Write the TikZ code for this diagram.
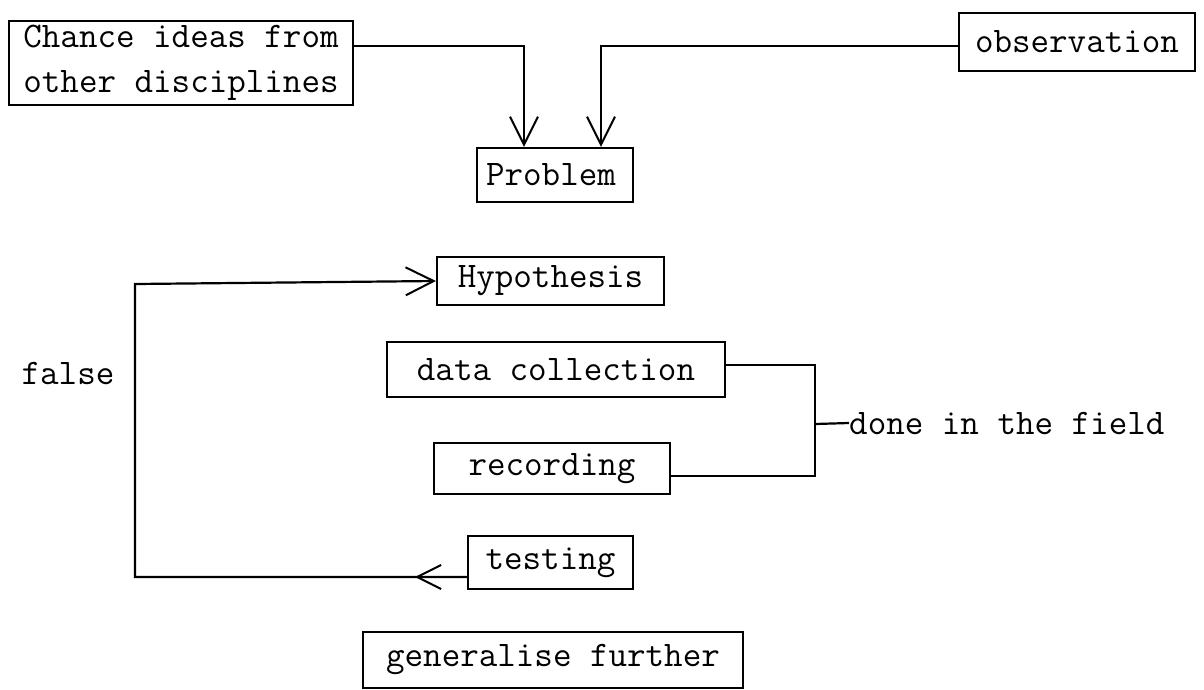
\documentclass[tikz,border=0pt]{standalone}
\usepackage{fontspec}
\usetikzlibrary{arrows.meta,decorations.markings}
\tikzset{
  box/.style={draw, line width=2.2pt, inner sep=0pt, align=center},
  lbl/.style={inner sep=0pt},
  conn/.style={line width=2.2pt},
  bigbarb/.style={-{Straight Barb[length=28pt,width=28pt,line width=2pt]}},
}
\begin{document}
\begin{tikzpicture}[x=1pt,y=-1pt,font=\ttfamily\fontsize{36}{45}\selectfont]
\useasboundingbox (0,0) rectangle (1204,689);
% nodes
\node[box, minimum width=344pt, minimum height=84pt, align=left] (chance) at (181,63)
  {Chance ideas from\\other disciplines};
\node[box, minimum width=236pt, minimum height=58pt] (obs) at (1077,42) {observation};
\node[box, minimum width=156pt, minimum height=54pt] (prob) at (555,175) {Problem\hspace{8pt}};
\node[box, minimum width=227pt, minimum height=48pt] (hyp) at (550.5,281) {Hypothesis};
\node[box, minimum width=338pt, minimum height=55pt] (dc) at (556,369.5) {data collection};
\node[box, minimum width=236pt, minimum height=51pt] (rec) at (552,468.5) {recording};
\node[box, minimum width=165pt, minimum height=53pt] (test) at (550.5,562.5) {testing};
\node[box, minimum width=380pt, minimum height=56pt] (gen) at (553,660) {generalise further};
\node[lbl] (false) at (68,373) {false};
\node[lbl, anchor=west] (done) at (849,423) {done in the field};
% coordinates
\coordinate (loopB) at (135,577);
\coordinate (loopT) at (135,284);
\coordinate (brk) at (815,424);
% connectors
\draw[conn, bigbarb] ([yshift=17pt]chance.east) -| ([xshift=-31pt]prob.north);
\draw[conn, bigbarb] ([yshift=-4pt]obs.west) -| ([xshift=46pt]prob.north);
\draw[conn, bigbarb,
  postaction={decorate},
  decoration={markings, mark=at position 52pt with {\arrow[line width=2pt]{Straight Barb[length=24pt,width=24pt]}}}]
  ([yshift=-14.5pt]test.west) -- (loopB) -- (loopT) -- (hyp.west);
\draw[conn] ([yshift=4.5pt]dc.east) -| (brk) |- ([yshift=-7.5pt]rec.east);
\draw[conn] (brk) -- (done.west);
\end{tikzpicture}
\end{document}
